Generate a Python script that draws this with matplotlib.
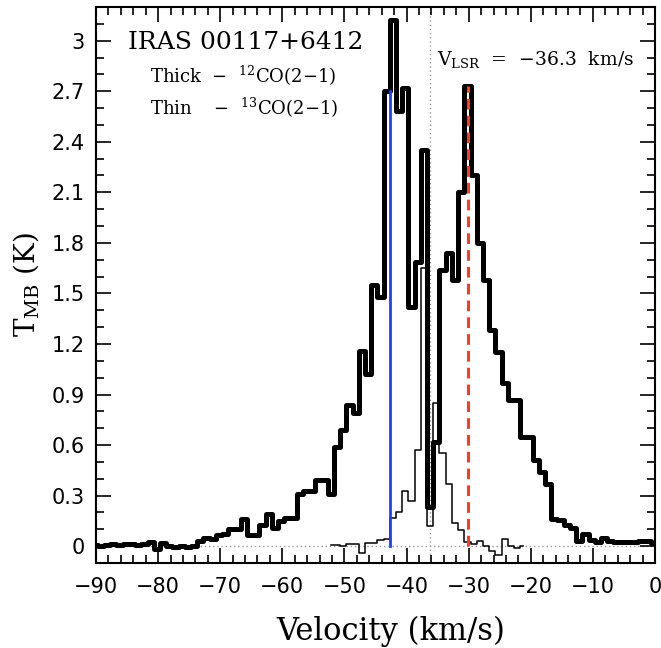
import numpy as np
import matplotlib
matplotlib.use("Agg")
import matplotlib.pyplot as plt
from matplotlib.ticker import MultipleLocator

# ---- data -------------------------------------------------------------
# 12CO(2-1) channel centres (km/s) and main-beam temperatures (K)
vel12 = np.arange(-90.2, 0.81, 1.0)
t12 = [0.005, 0.0, 0.005, 0.01, 0.005, 0.015, 0.01, 0.005, 0.012, 0.025,
       -0.015, 0.02, 0.0, -0.005, 0.0, -0.005, 0.0, 0.03, 0.05, 0.045,
       0.065, 0.075, 0.10, 0.10, 0.16, 0.065, 0.065, 0.125, 0.19, 0.11,
       0.15, 0.17, 0.17, 0.31, 0.33, 0.33, 0.395, 0.395, 0.31, 0.59,
       0.69, 0.84, 0.79, 1.16, 1.02, 1.55, 1.48, 2.70, 3.12, 2.58,
       2.72, 1.42, 1.685, 2.35, 0.235, 0.62, 1.64, 1.74, 1.58, 2.10,
       2.73, 2.20, 1.80, 1.58, 1.28, 1.15, 0.97, 0.865, 0.865, 0.648,
       0.648, 0.51, 0.44, 0.37, 0.16, 0.155, 0.125, 0.105, 0.03, 0.075,
       0.036, 0.026, 0.047, 0.033, 0.023, 0.023, 0.026, 0.026, 0.03, 0.03,
       0.02, 0.02]

# 13CO(2-1)
vel13 = np.arange(-52.2, -21.19, 1.0)
t13 = [0.005, 0.005, 0.0, 0.015, 0.01, -0.04, 0.02, 0.02, 0.035, 0.045,
       0.165, 0.20, 0.33, 0.27, 0.57, 1.65, 0.12, 0.85, 0.55, 0.37,
       0.14, 0.095, 0.026, 0.01, 0.03, 0.0, -0.03, -0.05, 0.045, 0.0,
       -0.01, 0.0]

v_lsr = -36.3
v_blue = -42.7
t_blue = 2.70
v_red = -30.15
t_red = 2.73

# ---- figure -----------------------------------------------------------
plt.rcParams["mathtext.fontset"] = "dejavuserif"
fig = plt.figure(figsize=(6.61, 6.48), dpi=100)
ax = fig.add_axes([96/661, 1-563/648, (655-96)/661, (563-7)/648])

ax.axhline(0, color="#999999", lw=1.0, ls=(0, (1, 2)), zorder=1)
ax.axvline(v_lsr, color="#999999", lw=1.0, ls=(0, (1, 2)), zorder=1)

ax.step(vel13, t13, where="mid", color="black", lw=1.1, zorder=2)
ax.step(vel12, t12, where="mid", color="black", lw=3.6, zorder=3,
        solid_joinstyle="round")

ax.plot([v_blue, v_blue], [0, t_blue], color="#1f3fff", lw=2.0, zorder=4)
ax.plot([v_red, v_red], [0, t_red], color="#ff3a2a", lw=2.2,
        ls=(0, (3.5, 2)), zorder=4)

ax.set_xlim(-90, 0)
ax.set_ylim(-0.1, 3.2)

ax.xaxis.set_major_locator(MultipleLocator(10))
ax.xaxis.set_minor_locator(MultipleLocator(2))
ax.yaxis.set_major_locator(MultipleLocator(0.3))
ax.yaxis.set_minor_locator(MultipleLocator(0.1))
ax.tick_params(which="both", direction="in", top=True, right=True, width=1.2)
ax.tick_params(which="major", length=11, labelsize=15)
ax.tick_params(axis="x", which="major", pad=10)
ax.tick_params(axis="y", which="major", pad=8)
ax.tick_params(which="minor", length=5.5)
for s in ax.spines.values():
    s.set_linewidth(1.5)

ax.set_yticks([0, 0.3, 0.6, 0.9, 1.2, 1.5, 1.8, 2.1, 2.4, 2.7, 3.0])
ax.set_yticklabels(["0", "0.3", "0.6", "0.9", "1.2", "1.5", "1.8", "2.1",
                    "2.4", "2.7", "3"])

serif = {"family": "DejaVu Serif"}
ax.set_xlabel("Velocity (km/s)", fontsize=22, **serif)
ax.xaxis.set_label_coords(0.528, -0.095)
ax.set_ylabel(r"T$_{\rm MB}$ (K)", fontsize=20, labelpad=8, **serif)

ax.text(-84.9, 2.99, "IRAS 00117+6412", fontsize=18, va="center", ha="left", **serif)
ax.text(-81.3, 2.79, "Thick  \u2212  $^{12}$CO(2\u22121)", fontsize=13, va="center", ha="left", **serif)
ax.text(-81.3, 2.60, "Thin    \u2212  $^{13}$CO(2\u22121)", fontsize=13, va="center", ha="left", **serif)
ax.text(-35.1, 2.89, "V$_{\\rm LSR}$  =  \u221236.3  km/s", fontsize=13.5, va="center", ha="left", **serif)

fig.savefig("out.png", dpi=100)
